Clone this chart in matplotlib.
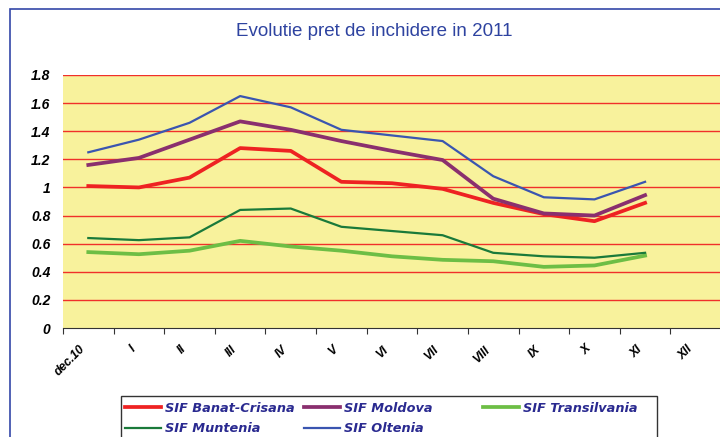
import numpy as np
import matplotlib
matplotlib.use("Agg")
import matplotlib.pyplot as plt
from matplotlib.patches import Rectangle

# data
months = ['dec.10', 'I', 'II', 'III', 'IV', 'V', 'VI', 'VII', 'VIII', 'IX', 'X', 'XI', 'XII']
banat = [1.01, 1.00, 1.07, 1.28, 1.26, 1.04, 1.03, 0.99, 0.89, 0.81, 0.76, 0.89]
moldova = [1.16, 1.21, 1.34, 1.47, 1.41, 1.33, 1.26, 1.195, 0.92, 0.815, 0.80, 0.945]
transilvania = [0.54, 0.525, 0.55, 0.62, 0.58, 0.55, 0.51, 0.485, 0.475, 0.435, 0.445, 0.515]
muntenia = [0.64, 0.625, 0.645, 0.84, 0.85, 0.72, 0.69, 0.66, 0.535, 0.51, 0.50, 0.535]
oltenia = [1.25, 1.34, 1.46, 1.65, 1.57, 1.41, 1.37, 1.33, 1.08, 0.93, 0.915, 1.04]

x = np.arange(len(banat)) + 0.5

plt.rcParams['font.family'] = ['Liberation Sans', 'DejaVu Sans']

fig = plt.figure(figsize=(7.2, 4.37), dpi=100)
# blue frame round the chart
fig.patches.append(Rectangle((10 / 720, -0.1), 1.2, 1.1 - 9 / 437,
                             transform=fig.transFigure, fill=False,
                             edgecolor='#3347A8', linewidth=1.2))

ax = fig.add_axes([63 / 720, 1 - 328 / 437, 658 / 720, 253 / 437])
ax.set_facecolor('#F8F29C')

for yv in np.arange(0.2, 1.81, 0.2):
    ax.axhline(yv, color='#F0302A', linewidth=1.0, zorder=1)

l1, = ax.plot(x, banat, color='#EE2222', lw=2.7, label='SIF Banat-Crisana', zorder=3)
l2, = ax.plot(x, muntenia, color='#1A7A3A', lw=1.6, label='SIF Muntenia', zorder=3)
l3, = ax.plot(x, moldova, color='#8A2F6E', lw=2.7, label='SIF Moldova', zorder=3)
l4, = ax.plot(x, oltenia, color='#3A55B0', lw=1.6, label='SIF Oltenia', zorder=3)
l5, = ax.plot(x, transilvania, color='#6DBE45', lw=2.7, label='SIF Transilvania', zorder=2)

ax.set_xlim(0, 13)
ax.set_ylim(0, 1.8)
ax.set_yticks(np.arange(0, 1.81, 0.2))
ax.set_yticklabels(['0', '0.2', '0.4', '0.6', '0.8', '1', '1.2', '1.4', '1.6', '1.8'],
                   fontsize=10, fontweight='bold', fontstyle='italic')
ax.tick_params(axis='y', length=0, pad=9)

# tick marks between categories, labels under the categories
ax.set_xticks(np.arange(0, 14))
ax.set_xticklabels([])
ax.set_xticks(np.arange(len(months)) + 0.32, minor=True)
ax.set_xticklabels(months, minor=True, rotation=45, ha='right', va='top',
                   fontsize=8.7, fontweight='bold', fontstyle='italic',
                   rotation_mode='anchor')
ax.tick_params(axis='x', which='major', length=4, direction='out', color='#333333')
ax.tick_params(axis='x', which='minor', length=0, pad=11)

for s in ['top', 'right', 'left']:
    ax.spines[s].set_visible(False)
ax.spines['bottom'].set_color('#333333')

fig.text(374 / 720, 1 - 31 / 437, 'Evolutie pret de inchidere in 2011',
         ha='center', va='center', fontsize=13.5, color='#2E43A0')

# legend: box plus three single-column legends
fig.patches.append(Rectangle((121 / 720, -0.05), 536 / 720, 0.05 + 1 - 396 / 437,
                             transform=fig.transFigure, fill=False,
                             edgecolor='#333333', linewidth=1.0))
legprop = {'family': 'DejaVu Sans', 'style': 'italic', 'weight': 'bold', 'size': 9.3}
columns = [([l1, l2], 125), ([l3, l4], 304), ([l5], 483)]
for hs, xpos in columns:
    leg = fig.legend(handles=hs, loc='upper left',
                     bbox_to_anchor=(xpos / 720, 1 - 402 / 437),
                     frameon=False, prop=legprop, handlelength=2.8,
                     handletextpad=0.3, borderpad=0, borderaxespad=0,
                     labelspacing=0.55)
    for t in leg.get_texts():
        t.set_color('#2A2A90')

fig.savefig('out.png', dpi=100)
